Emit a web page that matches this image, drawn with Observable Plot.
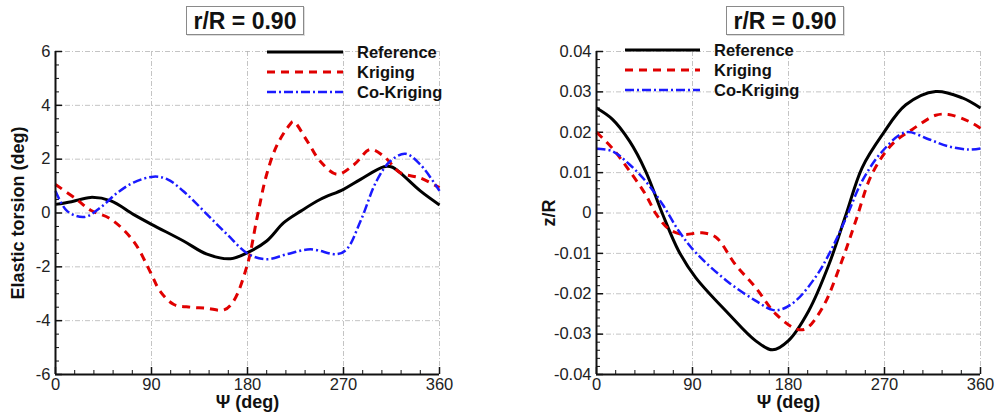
<!DOCTYPE html>
<html><head><meta charset="utf-8">
<script src="https://cdn.jsdelivr.net/npm/d3@7"></script>
<script src="https://cdn.jsdelivr.net/npm/@observablehq/plot@0.6"></script>
<style>
body{margin:0;background:#fff;font-family:"Liberation Sans",Arial,Helvetica,sans-serif;}
#wrap{position:relative;width:995px;height:412px;overflow:hidden;}
.panel{position:absolute;top:0;}
.panel svg{overflow:visible;}
.title{position:absolute;top:6px;height:27px;border:1px solid #8a8a8a;box-shadow:1px 1px 0 #ddd;font-weight:bold;font-size:23px;line-height:28px;padding:0 7px;background:#fff;color:#111;white-space:nowrap;}
.legend{position:absolute;font-weight:bold;font-size:16.5px;color:#111;}
.legend .row{position:absolute;left:0;height:20px;white-space:nowrap;}
.legend .row svg{position:absolute;left:0;top:0;}
.legend .row span{position:absolute;top:0;line-height:20px;}
g[aria-label="x-axis label"] text, g[aria-label="y-axis label"] text{font-weight:bold;font-size:18px;}
g[aria-label="x-axis tick label"] text, g[aria-label="y-axis tick label"] text{fill:#222;}
</style>
</head><body>
<div id="wrap"></div>
<script>
// ---------- data ----------
const psiTicks = [0, 90, 180, 270, 360];
const psiMinor = [18, 36, 54, 72, 108, 126, 144, 162, 198, 216, 234, 252, 288, 306, 324, 342];
const seriesNames = ["Reference", "Kriging", "Co-Kriging"];
const titleText = "r/R = 0.90";

// Left panel: elastic torsion (deg)
const torsionTicks = [-6, -4, -2, 0, 2, 4, 6];
const torsionRefPsi = [0, 15, 33, 52, 73, 90, 120, 142, 164, 180, 198, 214, 230, 248, 270, 286, 308, 316, 323, 342, 360];
const torsionRef    = [0.32, 0.42, 0.58, 0.45, -0.05, -0.42, -1.04, -1.53, -1.7, -1.47, -1.04, -0.36, 0.07, 0.5, 0.88, 1.25, 1.72, 1.7, 1.5, 0.82, 0.3];
const torsionKrgPsi = [0, 20, 33, 52, 73, 89, 98, 111, 127, 142, 158, 167, 180, 189, 198, 208, 220, 223, 236, 248, 264, 280, 295, 308, 323, 342, 360];
const torsionKrg    = [1.06, 0.5, 0.1, -0.23, -1.04, -2.2, -2.9, -3.4, -3.5, -3.54, -3.6, -3.27, -1.9, -0.17, 1.44, 2.55, 3.3, 3.4, 2.67, 1.93, 1.44, 1.8, 2.36, 2.1, 1.5, 1.3, 0.94];
const torsionCoPsi  = [0, 11, 27, 42, 58, 73, 92, 105, 123, 142, 161, 181, 198, 217, 239, 264, 273, 286, 301, 314, 328, 342, 360];
const torsionCo     = [0.82, 0.07, -0.15, 0.2, 0.75, 1.13, 1.35, 1.25, 0.7, -0.05, -0.8, -1.53, -1.72, -1.53, -1.35, -1.53, -1.35, -0.3, 1.19, 1.93, 2.2, 1.8, 0.82];

// Right panel: z/R
const zTicks = [-0.04, -0.03, -0.02, -0.01, 0, 0.01, 0.02, 0.03, 0.04];
const zRefPsi = [0, 15, 31, 46, 62, 77, 93, 124, 149, 165, 180, 199, 218, 234, 249, 268, 290, 318, 343, 360];
const zRef    = [0.026, 0.0232, 0.0178, 0.0104, -0.0003, -0.0094, -0.016, -0.025, -0.0316, -0.0339, -0.0316, -0.0242, -0.0127, -0.0003, 0.0112, 0.0194, 0.0268, 0.0301, 0.0285, 0.026];
const zKrgPsi = [0, 15, 31, 46, 56, 68, 81, 99, 112, 130, 149, 168, 187, 196, 212, 230, 243, 258, 277, 296, 318, 330, 349, 360];
const zKrg    = [0.02, 0.016, 0.0104, 0.0046, -0.0003, -0.004, -0.0053, -0.0049, -0.006, -0.0127, -0.0184, -0.025, -0.0287, -0.0287, -0.0234, -0.0119, -0.002, 0.0095, 0.017, 0.0207, 0.0242, 0.0244, 0.0227, 0.021];
const zCoPsi  = [0, 15, 31, 46, 62, 77, 93, 124, 149, 165, 174, 187, 205, 218, 234, 249, 268, 290, 312, 330, 349, 360];
const zCo     = [0.0159, 0.0153, 0.012, 0.0079, 0.0021, -0.0044, -0.0098, -0.0172, -0.0217, -0.024, -0.0238, -0.0217, -0.016, -0.0102, -0.0012, 0.0079, 0.0153, 0.02, 0.0182, 0.0165, 0.0157, 0.016];

// ---------- styles ----------
const styles = {
  "Reference":  {stroke: "#000000", strokeWidth: 3, dash: null},
  "Kriging":    {stroke: "#e00000", strokeWidth: 3, dash: "8,6"},
  "Co-Kriging": {stroke: "#1a1aff", strokeWidth: 2.5, dash: "9,3,2,3"}
};

function toRows(psi, vals, name){ return psi.map((p,i)=>({psi:p, v:vals[i], s:name})); }

function makePanel(cfg){
  const innerW = cfg.width - cfg.ml - cfg.mr;
  const innerH = cfg.height - cfg.mt - cfg.mb;
  const [y0, y1] = cfg.yDomain;
  const lines = cfg.series.map(([name, rows]) => {
    const st = styles[name];
    return Plot.line(rows, {x: "psi", y: "v", stroke: st.stroke, strokeWidth: st.strokeWidth,
      strokeDasharray: st.dash, curve: "catmull-rom", strokeLinecap: "butt"});
  });
  const gridStyle = {stroke: "#b0b0b0", strokeOpacity: 0.75, strokeWidth: 1, strokeDasharray: "5,2,1,2"};
  const chart = Plot.plot({
    width: cfg.width, height: cfg.height,
    marginLeft: cfg.ml, marginRight: cfg.mr, marginTop: cfg.mt, marginBottom: cfg.mb,
    style: {fontFamily: '"Liberation Sans", Arial, sans-serif', fontSize: "16px", color: "#111", background: "transparent"},
    x: {domain: [0, 360]},
    y: {domain: cfg.yDomain},
    marks: [
      Plot.gridX(psiTicks.slice(1), gridStyle),
      Plot.gridY(cfg.yTicks.slice(1), gridStyle),
      Plot.axisX(psiTicks, {tickSize: 0, tickPadding: 4, label: "Ψ (deg)", labelAnchor: "center", labelArrow: "none", labelOffset: 33, fontSize: 16.5}),
      Plot.axisY(cfg.yTicks, {tickSize: 0, tickPadding: 5, label: cfg.yLabel, labelAnchor: "center", labelArrow: "none", labelOffset: cfg.labelOffset, tickFormat: cfg.tickFormat, fontSize: 16.5}),
      // inward ticks
      Plot.tickX(psiTicks, {x: d => d, insetTop: innerH - 7, stroke: "#111", strokeWidth: 1.5}),
      Plot.tickX(psiMinor, {x: d => d, insetTop: innerH - 4, stroke: "#111", strokeWidth: 1}),
      Plot.tickY(cfg.yTicks, {y: d => d, insetRight: innerW - 7, stroke: "#111", strokeWidth: 1.5}),
      Plot.tickY(cfg.yMinor, {y: d => d, insetRight: innerW - 4, stroke: "#111", strokeWidth: 1}),
      ...lines,
      Plot.ruleX([0], {stroke: "#111", strokeWidth: 2}),
      Plot.ruleY([y0], {stroke: "#111", strokeWidth: 2})
    ]
  });
  const div = document.createElement("div");
  div.className = "panel";
  div.style.left = cfg.left + "px";
  div.appendChild(chart);
  document.getElementById("wrap").appendChild(div);

  // title
  const t = document.createElement("div");
  t.className = "title";
  t.textContent = titleText;
  document.getElementById("wrap").appendChild(t);
  t.style.left = (cfg.titleCenter - t.offsetWidth / 2) + "px";

  // legend
  const lg = document.createElement("div");
  lg.className = "legend";
  lg.style.left = cfg.legLeft + "px";
  lg.style.top = cfg.legTop + "px";
  seriesNames.forEach((name, i) => {
    const st = styles[name];
    const row = document.createElement("div");
    row.className = "row";
    row.style.top = (i * 20) + "px";
    row.innerHTML = `<svg width="${cfg.legLine}" height="20"><line x1="0" x2="${cfg.legLine}" y1="10" y2="10" stroke="${st.stroke}" stroke-width="${st.strokeWidth}" ${st.dash ? `stroke-dasharray="${st.dash}"` : ""}/></svg><span style="left:${cfg.legLine + 14}px">${name}</span>`;
    lg.appendChild(row);
  });
  document.getElementById("wrap").appendChild(lg);
}

function minorOf(ticks, step){
  const out = [];
  for (let i = 0; i < ticks.length - 1; i++) {
    const a = ticks[i], b = ticks[i+1];
    const n = Math.round((b - a) / step);
    for (let k = 1; k < n; k++) out.push(a + k * (b - a) / n);
  }
  return out;
}

makePanel({
  left: 0, width: 490, height: 412, ml: 55, mr: 51, mt: 51, mb: 38,
  yDomain: [-6, 6], yTicks: torsionTicks, yMinor: minorOf(torsionTicks, 0.5),
  yLabel: "Elastic torsion (deg)", labelOffset: 44, tickFormat: d => String(d),
  series: [["Reference", toRows(torsionRefPsi, torsionRef)], ["Kriging", toRows(torsionKrgPsi, torsionKrg)], ["Co-Kriging", toRows(torsionCoPsi, torsionCo)]],
  titleCenter: 245, legLeft: 267, legTop: 42, legLine: 76
});

makePanel({
  left: 495, width: 500, height: 412, ml: 101, mr: 15, mt: 51, mb: 38,
  yDomain: [-0.04, 0.04], yTicks: zTicks, yMinor: minorOf(zTicks, 0.002),
  yLabel: "z/R", labelOffset: 54, tickFormat: d => (d === 0 ? "0" : d.toFixed(2)),
  series: [["Reference", toRows(zRefPsi, zRef)], ["Kriging", toRows(zKrgPsi, zKrg)], ["Co-Kriging", toRows(zCoPsi, zCo)]],
  titleCenter: 785, legLeft: 625, legTop: 40, legLine: 75
});
</script>
</body></html>
